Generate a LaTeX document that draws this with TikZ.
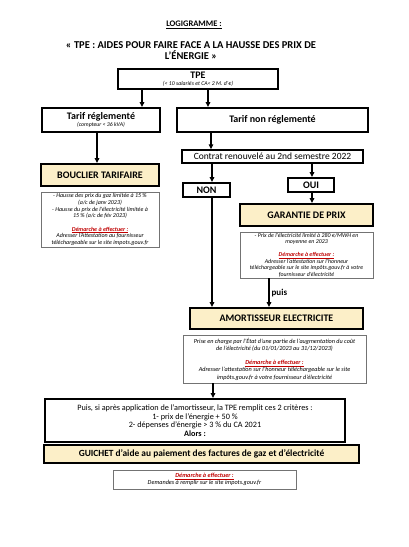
\documentclass[tikz,border=0pt]{standalone}
\usepackage{fontspec}
\setmainfont{Carlito}
\usetikzlibrary{arrows.meta}
\definecolor{boxyellow}{HTML}{FCEFC8}
\definecolor{demred}{HTML}{C00000}
\newcommand\demline{{\color{demred}\underline{\textbf{\textit{Démarche à effectuer :}}}}}
\begin{document}
\begin{tikzpicture}[x=1pt,y=-1pt,
  mainbox/.style={draw, line width=1.8pt, inner sep=0pt, align=center},
  ybox/.style={mainbox, fill=boxyellow},
  txtbox/.style={draw=black!55, line width=0.8pt, inner sep=0pt, align=center},
  arr/.style={line width=1.3pt, -{Triangle[length=5pt,width=4.5pt]}}
]
\fill[white] (0,0) rectangle (408,547);
\useasboundingbox (0,0) rectangle (408,547);

\node[font=\bfseries\fontsize{8.5}{9}\selectfont] (logi) at (194,25) {\underline{LOGIGRAMME :}};
\node[font=\bfseries\fontsize{10.5}{11}\selectfont, align=center] (title) at (191,50.5) {« TPE : AIDES POUR FAIRE FACE A LA HAUSSE DES PRIX DE\\ L'ÉNERGIE »};

\node[mainbox, line width=2pt, minimum width=160pt, minimum height=20pt, font=\itshape\fontsize{5.8}{6}\selectfont] (tpe) at (198,79)
  {{\upshape\bfseries\fontsize{10}{10}\selectfont TPE}\\[1pt](< 10 salariés et CA< 2 M. d'€)};

\node[mainbox, minimum width=118pt, minimum height=24pt, font=\itshape\fontsize{5.8}{6}\selectfont] (treg) at (101,120)
  {{\upshape\bfseries\fontsize{10}{10}\selectfont Tarif réglementé}\\[1.5pt](compteur < 36 kVA)};
\node[mainbox, minimum width=191pt, minimum height=24pt, font=\bfseries\fontsize{10}{10}\selectfont] (tnreg) at (272.5,120)
  {\raisebox{3pt}{Tarif non réglementé}};

\node[ybox, minimum width=118pt, minimum height=22pt, font=\bfseries\fontsize{10}{10}\selectfont] (boucl) at (100,175) {BOUCLIER TARIFAIRE};
\node[txtbox, minimum width=118pt, minimum height=55pt, font=\itshape\fontsize{6}{6.7}\selectfont] (boucltxt) at (100,219.5)
  {- Hausse des prix du gaz limitée à 15 \%\\ (a/c de janv 2023)\\ - Hausse du prix de l'électricité limitée à\\ 15 \% (a/c de fév 2023)\\[6.7pt] \demline\\ Adresser l'Attestation au fournisseur\\ téléchargeable sur le site impots.gouv.fr};

\node[mainbox, line width=1.4pt, minimum width=181pt, minimum height=13pt, font=\fontsize{9.5}{10}\selectfont] (contrat) at (272.5,156.5) {Contrat renouvelé au 2nd semestre 2022};

\node[mainbox, minimum width=47pt, minimum height=14pt, font=\bfseries\fontsize{10}{10}\selectfont] (non) at (206.5,190) {NON};
\node[mainbox, minimum width=46pt, minimum height=14pt, font=\bfseries\fontsize{10}{10}\selectfont] (oui) at (311,185) {OUI};

\node[ybox, minimum width=133pt, minimum height=22pt, font=\bfseries\fontsize{10}{10}\selectfont] (garantie) at (306.5,215) {GARANTIE DE PRIX};
\node[txtbox, minimum width=133pt, minimum height=46pt, font=\itshape\fontsize{5.9}{6.5}\selectfont] (garanttxt) at (306.5,255)
  {- Prix de l'électricité limité à 280 €/MWH en\\ moyenne en 2023\\[6.5pt] \demline\\ Adresser l'attestation sur l'honneur\\ téléchargeable sur le site impôts.gouv.fr à votre\\ fournisseur d'électricité};

\node[ybox, minimum width=173pt, minimum height=21pt, font=\bfseries\fontsize{10}{10}\selectfont] (amort) at (276.5,318.5) {AMORTISSEUR ELECTRICITE};
\node[txtbox, minimum width=183pt, minimum height=48pt, font=\itshape\fontsize{6.2}{7.2}\selectfont] (amorttxt) at (274.5,359)
  {Prise en charge par l'État d'une partie de l'augmentation du coût\\ de l'électricité (du 01/01/2023 au 31/12/2023)\\[7.2pt] \demline\\ Adresser l'attestation sur l'honneur téléchargeable sur le site\\ impôts.gouv.fr à votre fournisseur d'électricité};

\node[mainbox, minimum width=300pt, minimum height=43pt, font=\fontsize{8.2}{8.7}\selectfont] (puis) at (195,420.5)
  {Puis, si après application de l'amortisseur, la TPE remplit ces 2 critères :\\ 1- prix de l'énergie + 50 \%\\ 2- dépenses d'énergie > 3 \% du CA 2021\\ \textbf{Alors :}};
\node[ybox, minimum width=315pt, minimum height=18pt, font=\bfseries\fontsize{9.4}{10}\selectfont] (guichet) at (201.5,454) {GUICHET d'aide au paiement des factures de gaz et d'électricité};
\node[txtbox, minimum width=183pt, minimum height=19pt, font=\itshape\fontsize{6.2}{7}\selectfont] (demarche) at (204.5,479.5)
  {\demline\\ Demandes à remplir sur le site impots.gouv.fr};

\draw[arr] (tpe.south -| 142,0) -- (treg.north -| 142,0);
\draw[arr] (tpe.south -| 208,0) -- (tnreg.north -| 208,0);
\draw[arr] (treg.south -| 97,0) -- (boucl.north -| 97,0);
\draw[arr] (tnreg.south -| 211,0) -- (contrat.north -| 211,0);
\draw[arr] (contrat.south -| 212,0) -- (non.north -| 212,0);
\draw[arr] (contrat.south -| 312,0) -- (oui.north -| 312,0);
\draw[arr] (oui.south -| 312,0) -- (garantie.north -| 312,0);
\draw[arr] (non.south -| 212,0) -- (amort.north -| 212,0);
\draw[arr] (garanttxt.south -| 269,0) -- node[right, pos=0.5, inner sep=2pt, font=\bfseries\fontsize{9}{9}\selectfont] (puislbl) {puis} (amort.north -| 269,0);
\draw[arr] (amorttxt.south -| 213,0) -- (puis.north -| 213,0);
\end{tikzpicture}
\end{document}
